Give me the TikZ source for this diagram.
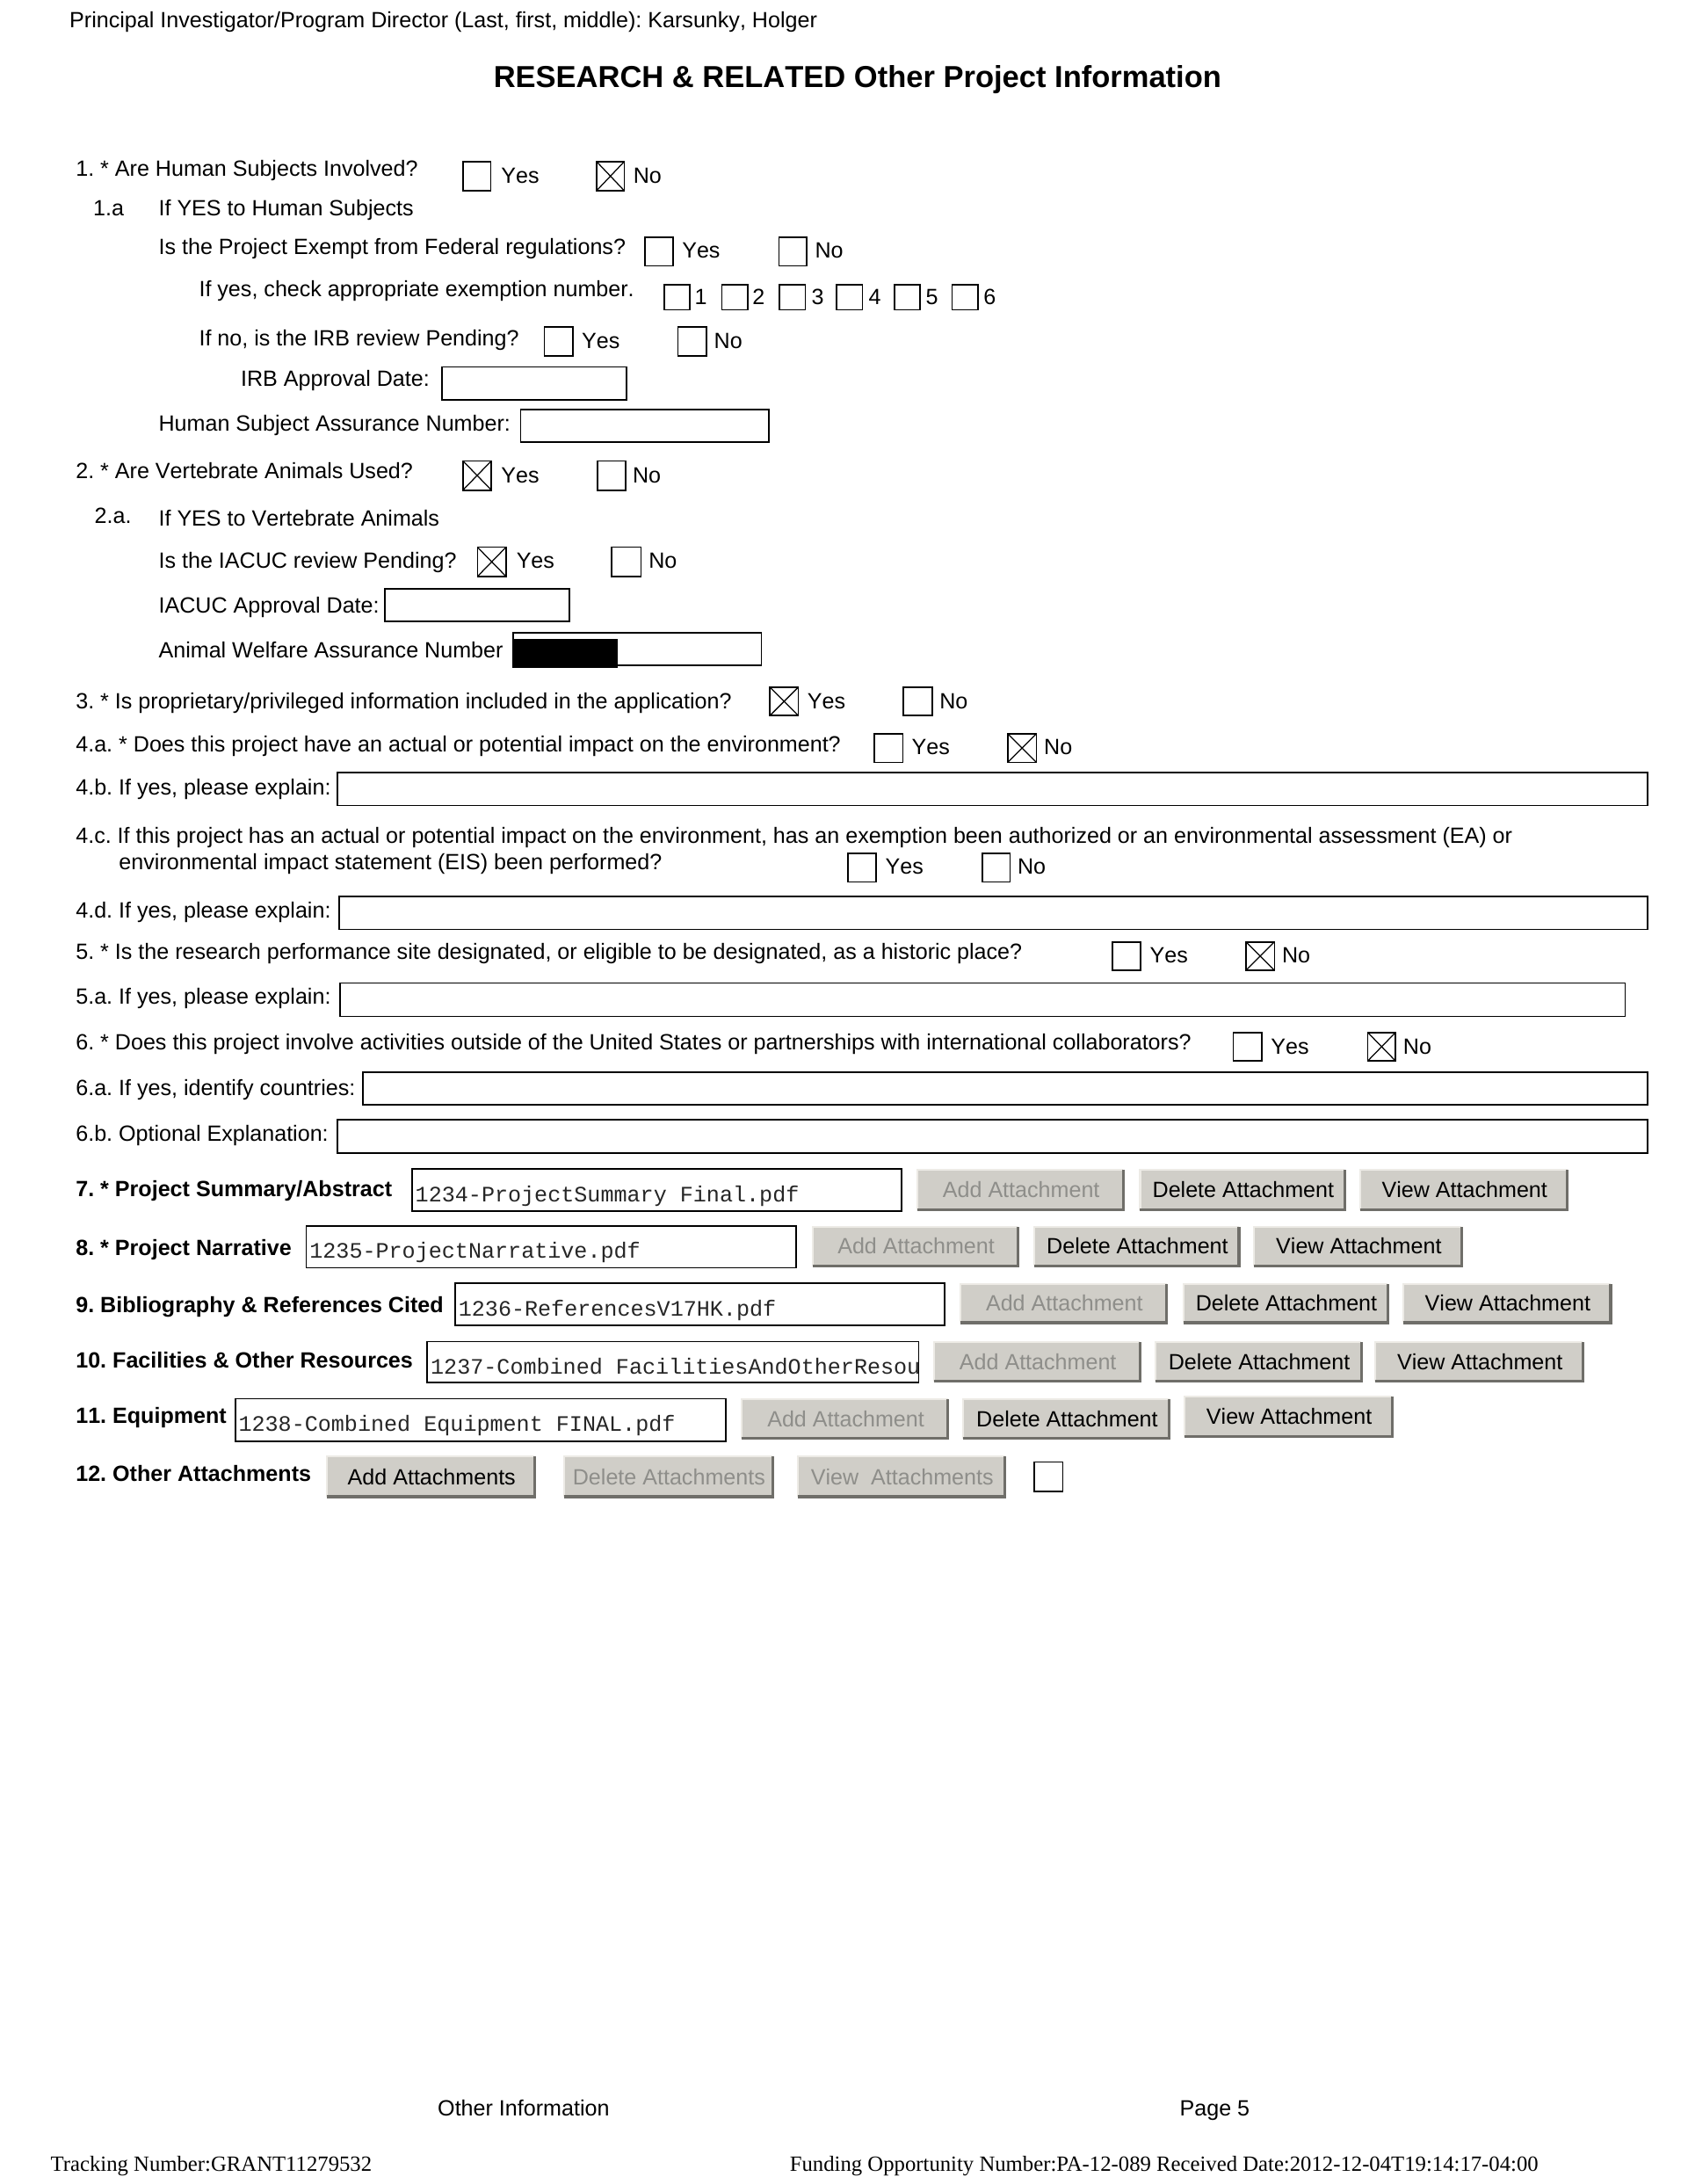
\documentclass[tikz,border=0pt]{standalone}
\usepackage{fontspec}
\setmainfont[Kerning=Off]{Liberation Sans}
\newfontfamily\ftserif{Liberation Serif}
\newfontfamily\ftmono{Liberation Mono}
\definecolor{btn}{HTML}{D0CEC8}
\definecolor{btnlt}{HTML}{EDEBE6}
\definecolor{btndk}{HTML}{6F6E69}
\definecolor{btntxt}{HTML}{8E8E8A}
\tikzset{
  lab/.style={anchor=base west,inner sep=0pt,outer sep=0pt,font=\fontsize{8}{10}\selectfont\frenchspacing},
  blab/.style={lab,font=\fontsize{8}{10}\selectfont\bfseries\frenchspacing},
  fname/.style={anchor=base west,inner sep=0pt,text=black!85,font=\fontsize{8}{10}\ftmono},
  foot/.style={anchor=base west,inner sep=0pt,font=\fontsize{7.88}{10}\ftserif},
  boxline/.style={draw=black,line width=0.55pt,fill=white},
  btnbody/.style={fill=btn,draw=none},
}
% \cb{name}{x0}{y0}{x1}{y1}
\newcommand{\cb}[5]{\node[boxline,inner sep=0pt,outer sep=0pt,rectangle,
   anchor=north west,minimum width={(#4-#2)*0.505pt},minimum height={(#5-#3)*0.505pt}] (#1) at (#2+0.5,#3) {};}
\newcommand{\cbx}[5]{\cb{#1}{#2}{#3}{#4}{#5}\draw[line width=0.4pt] (#1.north west)--(#1.south east) (#1.north east)--(#1.south west);}
\newcommand{\fld}[5]{\cb{#1}{#2}{#3}{#4}{#5}}
% \btn{name}{x0}{y0}{x1}{y1}{text}{color}
\newcommand{\btn}[7]{%
  \node[btnbody,inner sep=0pt,outer sep=0pt,anchor=north west,minimum width={(#4-#2)*0.505pt},minimum height={(#5-#3)*0.505pt},text=#7,font=\fontsize{8}{10}\selectfont] (#1) at (#2,#3) {\raisebox{-0.9pt}{\hspace{0.6pt}#6}};
  \draw[btnlt,line width=0.7pt] (#1.south west)--(#1.north west)--(#1.north east);
  \draw[btndk,line width=1pt] (#1.south west)--(#1.south east)--(#1.north east);}
\begin{document}
\begin{tikzpicture}[x=0.505pt,y=-0.505pt]
\useasboundingbox[fill=white] (0,0) rectangle (1212,1568.6);
\node[lab] (hdr) at (50,20) {Principal Investigator/Program Director (Last, first, middle): Karsunky, Holger};
\node[anchor=base,inner sep=0pt,font=\fontsize{11}{13}\selectfont\bfseries] (title) at (616,62.5) {RESEARCH \& RELATED Other Project Information};

\node[lab] (q1) at (54.5,126.5) {1. * Are Human Subjects Involved?};
\cb{q1y}{332}{116}{352}{137}\node[lab] (q1yt) at (360,131.7) {Yes};
\cbx{q1n}{428}{116}{448}{137}\node[lab] (q1nt) at (455,131.7) {No};
\node[lab] (q1a) at (67,155) {1.a};
\node[lab] (q1at) at (114,155) {If YES to Human Subjects};
\node[lab] (q1b) at (114,182.5) {Is the Project Exempt from Federal regulations?};
\cb{q1by}{463}{170.5}{483}{191}\node[lab] (q1byt) at (490,185.5) {Yes};
\cb{q1bn}{559}{170.5}{579}{191}\node[lab] (q1bnt) at (585.5,185.5) {No};
\node[lab] (q1c) at (143,213) {If yes, check appropriate exemption number.};
\cb{e1}{476.5}{204.5}{495}{222.5}\node[lab] (e1t) at (499,218.5) {1};
\cb{e2}{518}{204.5}{536.5}{222.5}\node[lab] (e2t) at (540.5,218.5) {2};
\cb{e3}{559.5}{204.5}{578}{222.5}\node[lab] (e3t) at (583,218.5) {3};
\cb{e4}{600.5}{204.5}{619}{222.5}\node[lab] (e4t) at (624,218.5) {4};
\cb{e5}{642}{204.5}{660.5}{222.5}\node[lab] (e5t) at (665,218.5) {5};
\cb{e6}{683.5}{204.5}{702}{222.5}\node[lab] (e6t) at (706.5,218.5) {6};
\node[lab] (q1d) at (143,248.5) {If no, is the IRB review Pending?};
\cb{q1dy}{390.5}{235}{411}{255.5}\node[lab] (q1dyt) at (418,250.5) {Yes};
\cb{q1dn}{486.5}{235}{507}{255.5}\node[lab] (q1dnt) at (513,250.5) {No};
\node[lab] (q1e) at (173,277.5) {IRB Approval Date:};
\fld{f1e}{317}{263.5}{449.5}{287}
\node[lab] (q1f) at (114,309.5) {Human Subject Assurance Number:};
\fld{f1f}{373.5}{294}{552}{317.5}

\node[lab] (q2) at (54.5,343.5) {2. * Are Vertebrate Animals Used?};
\cbx{q2y}{332}{331}{352.5}{352}\node[lab] (q2yt) at (360,347) {Yes};
\cb{q2n}{428.5}{331}{449}{352}\node[lab] (q2nt) at (454.5,347) {No};
\node[lab] (q2a) at (68,376) {2.a.};
\node[lab] (q2at) at (114,378) {If YES to Vertebrate Animals};
\node[lab] (q2b) at (114,408) {Is the IACUC review Pending?};
\cbx{q2by}{342.5}{393}{363}{414}\node[lab] (q2byt) at (371,408) {Yes};
\cb{q2bn}{439}{393}{460}{414}\node[lab] (q2bnt) at (466,408) {No};
\node[lab] (q2c) at (114,440) {IACUC Approval Date:};
\fld{f2c}{276}{423}{408.5}{446.5}
\node[lab] (q2d) at (114,472.5) {Animal Welfare Assurance Number};
\fld{f2d}{368}{454.5}{546.5}{478}
\fill[black] (368,459) rectangle (444,479.5);

\node[lab] (q3) at (54.5,509) {3. * Is proprietary/privileged information included in the application?};
\cbx{q3y}{552.5}{493.5}{573}{514}\node[lab] (q3yt) at (580,509) {Yes};
\cb{q3n}{648.5}{493.5}{669}{514}\node[lab] (q3nt) at (675,509) {No};
\node[lab] (q4a) at (54.5,540) {4.a. * Does this project have an actual or potential impact on the environment?};
\cb{q4y}{627.5}{527}{648}{547.5}\node[lab] (q4yt) at (655,542) {Yes};
\cbx{q4n}{723.5}{527}{744}{547.5}\node[lab] (q4nt) at (750,542) {No};
\node[lab] (q4b) at (54.5,571) {4.b. If yes, please explain:};
\fld{f4b}{242}{555}{1183}{578.5}
\node[lab] (q4c) at (54.5,605.5) {4.c. If this project has an actual or potential impact on the environment, has an exemption been authorized or an environmental assessment (EA) or};
\node[lab] (q4c2) at (85.5,624.5) {environmental impact statement (EIS) been performed?};
\cb{q4cy}{608.5}{613}{629}{633.5}\node[lab] (q4cyt) at (636,628) {Yes};
\cb{q4cn}{705}{613}{725}{633.5}\node[lab] (q4cnt) at (731,628) {No};
\node[lab] (q4d) at (54.5,659) {4.d. If yes, please explain:};
\fld{f4d}{243}{644}{1183}{667.5}
\node[lab] (q5) at (54.5,689) {5. * Is the research performance site designated, or eligible to be designated, as a historic place?};
\cb{q5y}{798.5}{676.5}{819}{697}\node[lab] (q5yt) at (826,691.7) {Yes};
\cbx{q5n}{894.5}{676.5}{915}{697}\node[lab] (q5nt) at (921,691.7) {No};
\node[lab] (q5a) at (54.5,721) {5.a. If yes, please explain:};
\fld{f5a}{244}{706}{1167}{730}
\node[lab] (q6) at (54.5,754) {6. * Does this project involve activities outside of the United States or partnerships with international collaborators?};
\cb{q6y}{885.5}{741.5}{906}{762}\node[lab] (q6yt) at (913,757) {Yes};
\cbx{q6n}{982}{741.5}{1002}{762}\node[lab] (q6nt) at (1008,757) {No};
\node[lab] (q6a) at (54.5,786.5) {6.a. If yes, identify countries:};
\fld{f6a}{260}{770}{1183}{793.5}
\node[lab] (q6b) at (54.5,819.5) {6.b. Optional Explanation:};
\fld{f6b}{242}{804}{1183}{828}

\node[blab] (q7) at (54.5,859.7) {7. * Project Summary/Abstract};
\fld{f7}{295.5}{839.5}{647}{870}\node[fname] (f7t) at (298,863) {1234-ProjectSummary Final.pdf};
\btn{a7}{659}{840}{807}{869}{Add Attachment}{btntxt}
\btn{d7}{819}{840}{966}{869}{Delete Attachment}{black}
\btn{v7}{977}{840}{1126}{869}{View Attachment}{black}

\node[blab] (q8) at (54.5,902) {8. * Project Narrative};
\fld{f8}{219.5}{880.5}{571.5}{910.5}\node[fname] (f8t) at (222,903.5) {1235-ProjectNarrative.pdf};
\btn{a8}{584}{881}{731}{909}{Add Attachment}{btntxt}
\btn{d8}{743}{881}{890}{909}{Delete Attachment}{black}
\btn{v8}{901}{881}{1050}{909}{View Attachment}{black}

\node[blab] (q9) at (54.5,942.5) {9. Bibliography \& References Cited};
\fld{f9}{326.5}{921.5}{678}{952}\node[fname] (f9t) at (329,945) {1236-ReferencesV17HK.pdf};
\btn{a9}{690}{922}{838}{950}{Add Attachment}{btntxt}
\btn{d9}{850}{922}{997}{950}{Delete Attachment}{black}
\btn{v9}{1008}{922}{1157}{950}{View Attachment}{black}

\node[blab] (q10) at (54.5,982.5) {10. Facilities \& Other Resources};
\fld{f10}{306.5}{963.5}{659.5}{993}
\node[fname] (f10t) at (309,987) {1237-Combined FacilitiesAndOtherResou};
\btn{a10}{671}{964}{819}{992}{Add Attachment}{btntxt}
\btn{d10}{830}{964}{978}{992}{Delete Attachment}{black}
\btn{v10}{988}{964}{1137}{992}{View Attachment}{black}

\node[blab] (q11) at (54.5,1022.5) {11. Equipment};
\fld{f11}{168.5}{1004.5}{521}{1035}\node[fname] (f11t) at (171,1028) {1238-Combined Equipment FINAL.pdf};
\btn{a11}{533}{1005}{681}{1033}{Add Attachment}{btntxt}
\btn{d11}{692}{1005}{840}{1033}{Delete Attachment}{black}
\btn{v11}{851}{1003}{1000}{1032}{View Attachment}{black}

\node[blab] (q12) at (54.5,1064) {12. Other Attachments};
\btn{a12}{235}{1046}{384}{1075}{Add Attachments}{black}
\btn{d12}{405}{1046}{555}{1075}{Delete Attachments}{btntxt}
\btn{v12}{573}{1046}{722}{1075}{View\ \ Attachments}{btntxt}
\cb{q12b}{742.5}{1050}{763}{1071}

\node[lab] (ft1) at (314.5,1519.5) {Other Information};
\node[lab] (ft2) at (847.5,1519.5) {Page 5};
\node[foot] (ft3) at (36,1559.7) {Tracking Number:GRANT11279532};
\node[foot] (ft4) at (567,1559.7) {Funding Opportunity Number:PA-12-089 Received Date:2012-12-04T19:14:17-04:00};
\end{tikzpicture}
\end{document}
